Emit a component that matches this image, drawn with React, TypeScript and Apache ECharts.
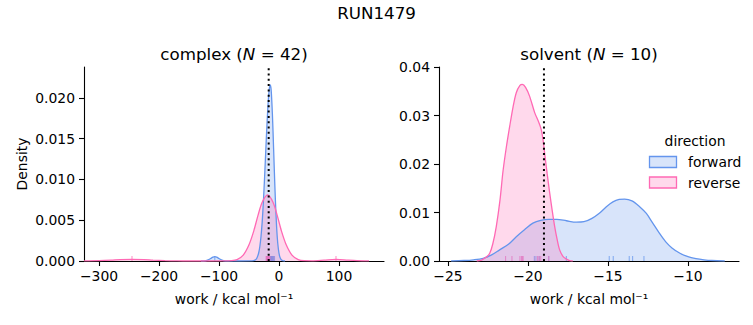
import React, { useEffect, useRef } from "react";
import * as echarts from "echarts";

// ---- data ----
const complexXTicks = [-300, -200, -100, 0, 100];
const complexYTicks = [0, 0.005, 0.01, 0.015, 0.02];
const solventXTicks = [-25, -20, -15, -10];
const solventYTicks = [0, 0.01, 0.02, 0.03, 0.04];

const forwardComplex: [number, number][] = [
  [-130, 0], [-122, 0.00003], [-118, 0.00013], [-114, 0.0003], [-110, 0.00047], [-107, 0.00053],
  [-104, 0.00047], [-100, 0.0003], [-96, 0.00013], [-92, 0.00003], [-86, 0], [-45, 0.00001],
  [-40, 0.0001], [-37, 0.00034], [-34, 0.00095], [-32, 0.00175], [-30, 0.003], [-28, 0.0048],
  [-26, 0.0073], [-24, 0.0103], [-22, 0.0136], [-20, 0.0168], [-18, 0.0195], [-16, 0.0212],
  [-14.5, 0.0216], [-13, 0.0209], [-11, 0.018], [-9, 0.0138], [-7, 0.0094], [-5, 0.0057],
  [-3, 0.003], [-1, 0.00144], [1, 0.0006], [3, 0.00023], [6, 0.00004], [10, 0],
];

const reverseComplex: [number, number][] = [
  [-325, 0.00001], [-300, 0.00004], [-280, 0.0001], [-265, 0.00017], [-245, 0.0002], [-225, 0.00017],
  [-210, 0.0001], [-190, 0.00004], [-170, 0.00001], [-150, 0], [-90, 0.00001], [-80, 0.00004],
  [-70, 0.00018], [-60, 0.00069], [-50, 0.002], [-42, 0.0037], [-35, 0.0056], [-28, 0.0072],
  [-19, 0.0081], [-10, 0.0072], [-3, 0.0056], [4, 0.0037], [12, 0.002], [22, 0.00069],
  [32, 0.00018], [42, 0.00004], [55, 0.00002], [75, 0.0001], [95, 0.0002], [115, 0.0001],
  [130, 0.00004], [150, 0.00001],
];

const forwardSolvent: [number, number][] = [
  [-24.8, 0], [-24, 0.0001], [-23.4, 0.00025], [-22.8, 0.00055], [-22.3, 0.0012], [-21.77, 0.0023],
  [-21.2, 0.0035], [-20.73, 0.005], [-20.2, 0.0065], [-19.69, 0.0078], [-19.2, 0.0084], [-18.7, 0.0086],
  [-18.2, 0.0086], [-17.6, 0.0083], [-16.98, 0.008], [-16.5, 0.0081], [-16, 0.0088], [-15.52, 0.0099],
  [-15.1, 0.0112], [-14.69, 0.0122], [-14.3, 0.0127], [-13.96, 0.01277], [-13.5, 0.0124], [-13.02, 0.0112],
  [-12.6, 0.0098], [-12.2, 0.0078], [-11.8, 0.0058], [-11.4, 0.004], [-11, 0.0027], [-10.5, 0.0016],
  [-10, 0.0009], [-9.5, 0.0005], [-9, 0.00025], [-8.5, 0.0001], [-7.7, 0],
];

const reverseSolvent: [number, number][] = [
  [-23.2, 0], [-22.9, 0.0002], [-22.6, 0.0008], [-22.39, 0.0016], [-22.2, 0.0035], [-21.98, 0.0071],
  [-21.75, 0.0125], [-21.56, 0.0185], [-21.35, 0.0235], [-21.14, 0.0278], [-20.93, 0.0318], [-20.73, 0.0347],
  [-20.5, 0.0362], [-20.35, 0.0364], [-20.15, 0.0358], [-19.9, 0.034], [-19.58, 0.0306], [-19.35, 0.0288],
  [-19.17, 0.0271], [-19.05, 0.0248], [-18.96, 0.0223], [-18.8, 0.018], [-18.64, 0.014], [-18.48, 0.0103],
  [-18.33, 0.0071], [-18.18, 0.0045], [-18.02, 0.0023], [-17.8, 0.0009], [-17.6, 0.0004], [-17.4, 0.0001],
  [-17.2, 0],
];

const forwardComplexRug = [-107, -14.2, -13.6, -13.1, -12.6, -12.1, -11.5, -10.8, -10.2, -9.4, -8.6, -7.5];
const reverseComplexRug = [-245, -21.5, -20.8, -20.2, -19.6, -19.1, -18.7, -18.2, -17.8, -17.3, -16.9, -16.4, -15.8, -15.2, 95];
const forwardSolventRug = [-19.6, -19.5, -19.3, -18.7, -17.6, -14.92, -14.67, -13.67, -13.46, -12.75];
const reverseSolventRug = [-21.4, -21.0, -20.5, -20.4, -20.35, -20.3, -19.4, -19.3, -19.2, -18.7];

const complexEstimate = -17.2;
const solventEstimate = -19.0;

const complexXRange = [-325, 175];
const complexYMax = 0.0238;
const solventXRange = [-25.56, -6.81];
const solventYMax = 0.04;

// ---- styles ----
const BLUE = "#6495ED";
const PINK = "#FF69B4";
const BLUE_FILL = "rgba(100,149,237,0.25)";
const PINK_FILL = "rgba(255,105,180,0.25)";
const FONT = "DejaVu Sans";
const TICK_FS = 13.9;
const TITLE_FS = 16.7;

const fmt = (v: number, d: number) => {
  const s = Math.abs(v).toFixed(d);
  return v < 0 && Math.abs(v) > 1e-12 ? "\u2212" + s : s;
};

function xAxis(gridIndex: number, range: number[], ticks: number[]) {
  return {
    type: "value",
    gridIndex,
    min: range[0],
    max: range[1],
    axisLine: { show: true, onZero: false, lineStyle: { color: "#000", width: 1.1 } },
    axisTick: { show: true, length: 5, customValues: ticks, lineStyle: { color: "#000", width: 1.1 } },
    axisLabel: {
      customValues: ticks,
      formatter: (v: number) => fmt(v, 0),
      color: "#000",
      fontFamily: FONT,
      fontSize: TICK_FS,
      margin: 8,
    },
    splitLine: { show: false },
  };
}

function yAxis(gridIndex: number, max: number, ticks: number[], digits: number) {
  return {
    type: "value",
    gridIndex,
    min: 0,
    max,
    axisLine: { show: true, onZero: false, lineStyle: { color: "#000", width: 1.1 } },
    axisTick: { show: true, length: 5, customValues: ticks, lineStyle: { color: "#000", width: 1.1 } },
    axisLabel: {
      customValues: ticks,
      formatter: (v: number) => fmt(v, digits),
      color: "#000",
      fontFamily: FONT,
      fontSize: TICK_FS,
      margin: 9,
    },
    splitLine: { show: false },
  };
}

function kde(name: string, idx: number, data: [number, number][], color: string, fill: string) {
  return {
    name,
    type: "line",
    xAxisIndex: idx,
    yAxisIndex: idx,
    data,
    smooth: 0.3,
    symbol: "none",
    showSymbol: false,
    lineStyle: { color, width: 1.3 },
    areaStyle: { color: fill, opacity: 1 },
    silent: true,
  };
}

function rug(idx: number, values: number[], color: string) {
  return {
    type: "scatter",
    xAxisIndex: idx,
    yAxisIndex: idx,
    data: values.map((v) => [v, 0]),
    symbol: "rect",
    symbolSize: [1.1, 5],
    symbolOffset: [0, -2.5],
    itemStyle: { color, opacity: 0.7 },
    silent: true,
  };
}

function vline(idx: number, x: number, ymax: number) {
  return {
    type: "line",
    xAxisIndex: idx,
    yAxisIndex: idx,
    data: [
      [x, 0],
      [x, ymax],
    ],
    symbol: "none",
    lineStyle: { color: "#000", width: 2, type: [2, 3.3] },
    silent: true,
    z: 10,
  };
}

export default function App() {
  const ref = useRef<HTMLDivElement>(null);
  useEffect(() => {
    if (!ref.current) return;
    const chart = echarts.init(ref.current, undefined, { renderer: "svg" });
    const text = (t: string, x: number, y: number, extra: any = {}) => ({
      type: "text",
      x,
      y,
      style: {
        text: t,
        fill: "#000",
        font: `${extra.fontSize || TICK_FS}px "${FONT}"`,
        fontFamily: FONT,
        fontSize: extra.fontSize || TICK_FS,
        textAlign: extra.align || "center",
        textVerticalAlign: "middle",
        verticalAlign: "middle",
        rich: extra.rich,
      },
      rotation: extra.rotation || 0,
    });
    const italicRich = {
      i: { fontStyle: "italic", fontFamily: FONT, fontSize: TITLE_FS, fill: "#000" },
      n: { fontFamily: FONT, fontSize: TITLE_FS, fill: "#000" },
    };
    chart.setOption({
      animation: false,
      grid: [
        { left: 84, top: 67, width: 300, height: 194, containLabel: false },
        { left: 439, top: 67, width: 300, height: 194, containLabel: false },
      ],
      xAxis: [xAxis(0, complexXRange, complexXTicks), xAxis(1, solventXRange, solventXTicks)],
      yAxis: [yAxis(0, complexYMax, complexYTicks, 3), yAxis(1, solventYMax, solventYTicks, 2)],
      series: [
        kde("forward", 0, forwardComplex, BLUE, BLUE_FILL),
        kde("reverse", 0, reverseComplex, PINK, PINK_FILL),
        rug(0, forwardComplexRug, BLUE),
        rug(0, reverseComplexRug, PINK),
        vline(0, complexEstimate, complexYMax),
        kde("forward", 1, forwardSolvent, BLUE, BLUE_FILL),
        kde("reverse", 1, reverseSolvent, PINK, PINK_FILL),
        rug(1, forwardSolventRug, BLUE),
        rug(1, reverseSolventRug, PINK),
        vline(1, solventEstimate, solventYMax),
      ],
      graphic: [
        text("RUN1479", 376.5, 13, { fontSize: TITLE_FS }),
        text("{n|complex (}{i|N}{n| = 42)}", 234, 54, { fontSize: TITLE_FS, rich: italicRich }),
        text("{n|solvent (}{i|N}{n| = 10)}", 589, 54, { fontSize: TITLE_FS, rich: italicRich }),
        text("Density", 21.5, 164, { rotation: Math.PI / 2 }),
        text("work / kcal mol\u207B\u00B9", 234, 299),
        text("work / kcal mol\u207B\u00B9", 589, 299),
        text("direction", 695, 141),
        {
          type: "rect",
          shape: { x: 649.5, y: 156.5, width: 27, height: 11 },
          style: { fill: BLUE_FILL, stroke: BLUE, lineWidth: 1.3 },
        },
        {
          type: "rect",
          shape: { x: 649.5, y: 177, width: 27, height: 11 },
          style: { fill: PINK_FILL, stroke: PINK, lineWidth: 1.3 },
        },
        text("forward", 688, 162, { align: "left" }),
        text("reverse", 688, 182.5, { align: "left" }),
      ],
    });
    return () => chart.dispose();
  }, []);
  return (
    <div
      ref={ref}
      style={{ position: "absolute", left: 0, top: 0, width: 753, height: 325 }}
    />
  );
}
